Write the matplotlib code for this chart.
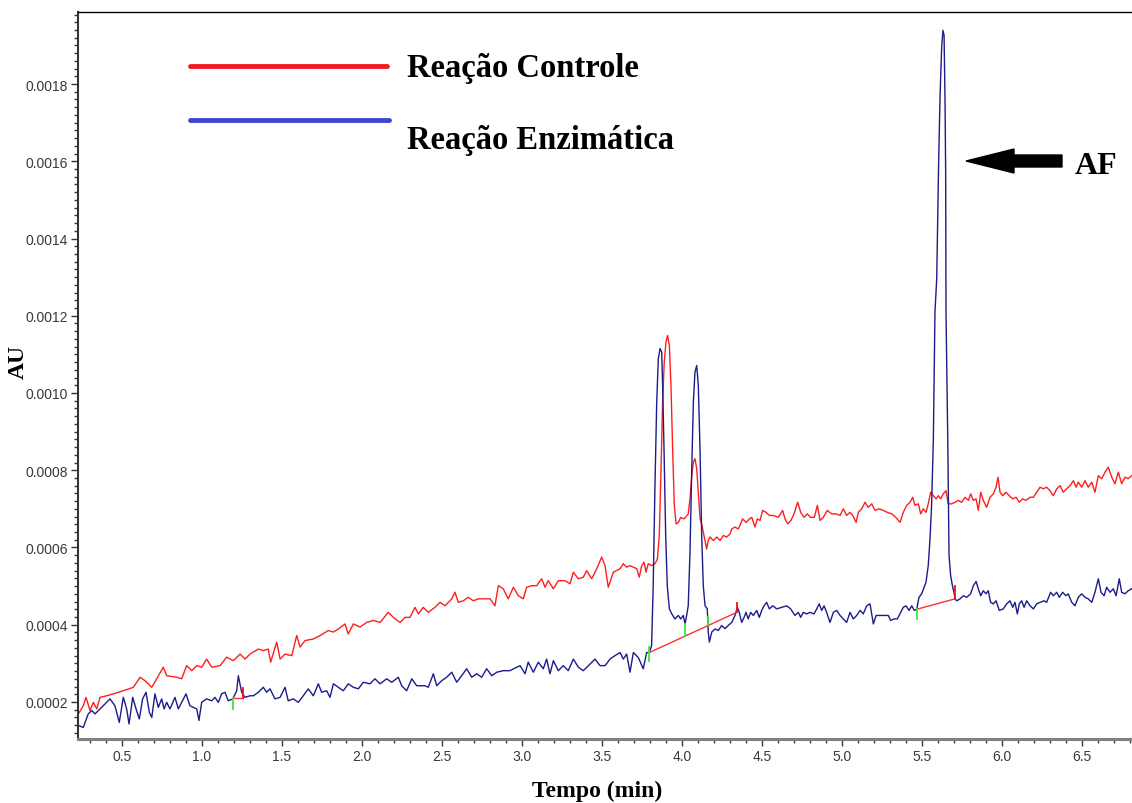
import numpy as np
import matplotlib
matplotlib.use('Agg')
from matplotlib import pyplot as plt
from matplotlib.patches import FancyArrow
from matplotlib.lines import Line2D
from matplotlib.ticker import MultipleLocator, FormatStrFormatter

t_controle = [0.227, 0.258, 0.275, 0.300, 0.321, 0.342, 0.363, 0.404, 0.446, 0.508,
              0.571, 0.613, 0.644, 0.686, 0.717, 0.758, 0.779, 0.842, 0.873, 0.904,
              0.936, 0.967, 0.998, 1.029, 1.061, 1.113, 1.154, 1.196, 1.238, 1.269,
              1.300, 1.352, 1.383, 1.414, 1.429, 1.467, 1.488, 1.519, 1.561, 1.592,
              1.613, 1.644, 1.696, 1.738, 1.789, 1.821, 1.852, 1.894, 1.914, 1.946,
              1.988, 2.029, 2.071, 2.113, 2.164, 2.196, 2.238, 2.269, 2.300, 2.331,
              2.352, 2.383, 2.414, 2.456, 2.488, 2.519, 2.561, 2.581, 2.602, 2.633,
              2.664, 2.696, 2.727, 2.758, 2.800, 2.831, 2.852, 2.883, 2.914, 2.946,
              2.977, 3.008, 3.029, 3.061, 3.092, 3.123, 3.144, 3.164, 3.196, 3.227,
              3.269, 3.300, 3.321, 3.352, 3.383, 3.404, 3.436, 3.467, 3.498, 3.519,
              3.539, 3.571, 3.613, 3.633, 3.654, 3.675, 3.696, 3.717, 3.733, 3.748,
              3.763, 3.775, 3.789, 3.810, 3.831, 3.846, 3.858, 3.869, 3.879, 3.889,
              3.900, 3.910, 3.921, 3.931, 3.942, 3.952, 3.963, 3.977, 3.992, 4.013,
              4.039, 4.050, 4.061, 4.071, 4.081, 4.092, 4.102, 4.113, 4.123, 4.133,
              4.144, 4.154, 4.164, 4.175, 4.196, 4.217, 4.238, 4.258, 4.279, 4.300,
              4.311, 4.331, 4.352, 4.379, 4.400, 4.421, 4.436, 4.456, 4.471, 4.488,
              4.504, 4.525, 4.546, 4.571, 4.602, 4.629, 4.644, 4.661, 4.681, 4.700,
              4.723, 4.742, 4.763, 4.783, 4.804, 4.827, 4.846, 4.863, 4.883, 4.908,
              4.936, 4.963, 4.988, 5.008, 5.029, 5.050, 5.067, 5.088, 5.102, 5.123,
              5.144, 5.164, 5.186, 5.206, 5.233, 5.258, 5.283, 5.311, 5.336, 5.363,
              5.383, 5.404, 5.425, 5.442, 5.456, 5.477, 5.492, 5.508, 5.525, 5.539,
              5.554, 5.571, 5.588, 5.602, 5.617, 5.633, 5.650, 5.664, 5.686, 5.706,
              5.727, 5.748, 5.769, 5.790, 5.804, 5.821, 5.838, 5.852, 5.867, 5.883,
              5.904, 5.925, 5.946, 5.963, 5.975, 5.988, 6.004, 6.025, 6.046, 6.067,
              6.088, 6.108, 6.129, 6.150, 6.175, 6.196, 6.217, 6.238, 6.258, 6.279,
              6.300, 6.321, 6.342, 6.363, 6.383, 6.404, 6.425, 6.446, 6.463, 6.477,
              6.498, 6.519, 6.539, 6.561, 6.581, 6.602, 6.623, 6.644, 6.664, 6.686,
              6.706, 6.727, 6.748, 6.769, 6.789, 6.810]
au_controle = [1.69, 1.90, 2.12, 1.78, 1.99, 1.82, 2.12, 2.16, 2.21, 2.29,
               2.38, 2.64, 2.55, 2.38, 2.60, 2.90, 2.68, 2.64, 2.60, 2.94,
               2.81, 2.94, 2.90, 3.11, 2.90, 2.94, 3.16, 3.07, 3.24, 3.11,
               3.24, 3.37, 3.33, 3.37, 3.03, 3.55, 3.11, 3.24, 3.20, 3.72,
               3.42, 3.59, 3.63, 3.72, 3.85, 3.81, 3.89, 4.02, 3.76, 4.02,
               3.94, 4.06, 4.11, 4.06, 4.32, 4.19, 4.06, 4.19, 4.19, 4.45,
               4.28, 4.45, 4.32, 4.45, 4.58, 4.49, 4.67, 4.84, 4.58, 4.62,
               4.71, 4.62, 4.67, 4.67, 4.67, 4.49, 5.01, 4.93, 4.67, 4.97,
               4.75, 4.67, 4.97, 5.01, 5.01, 5.19, 4.97, 5.14, 4.93, 5.14,
               5.14, 5.06, 5.36, 5.19, 5.23, 5.40, 5.19, 5.45, 5.75, 5.53,
               4.97, 5.36, 5.45, 5.58, 5.49, 5.53, 5.49, 5.45, 5.23, 5.53,
               5.62, 5.36, 5.58, 5.53, 5.58, 5.70, 6.31, 8.04, 9.76, 10.80,
               11.32, 11.49, 11.23, 10.19, 8.47, 7.09, 6.61, 6.65, 6.78, 6.74,
               6.87, 7.26, 7.86, 8.21, 8.30, 8.04, 7.43, 6.74, 6.61, 6.40,
               6.18, 5.96, 6.18, 6.27, 6.18, 6.27, 6.18, 6.31, 6.27, 6.35,
               6.48, 6.53, 6.48, 6.74, 6.65, 6.74, 6.78, 6.53, 6.74, 6.70,
               6.96, 6.91, 6.83, 6.83, 6.78, 6.96, 6.74, 6.61, 6.70, 6.87,
               7.17, 6.91, 6.78, 6.87, 6.78, 6.78, 7.09, 6.70, 6.78, 6.96,
               6.87, 6.87, 6.83, 7.00, 6.83, 6.91, 6.83, 6.65, 6.91, 7.00,
               7.17, 7.04, 7.13, 6.96, 7.00, 6.96, 6.91, 6.87, 6.78, 6.65,
               6.91, 7.09, 7.17, 7.30, 7.09, 7.13, 6.87, 7.00, 6.91, 7.13,
               7.43, 7.34, 7.26, 7.34, 7.26, 7.39, 7.47, 7.13, 7.13, 7.17,
               7.22, 7.17, 7.30, 7.22, 7.39, 7.22, 7.26, 6.96, 7.43, 7.22,
               7.04, 7.30, 7.39, 7.56, 7.82, 7.43, 7.34, 7.43, 7.34, 7.26,
               7.30, 7.17, 7.26, 7.22, 7.30, 7.30, 7.43, 7.56, 7.52, 7.56,
               7.47, 7.34, 7.52, 7.60, 7.43, 7.52, 7.60, 7.73, 7.56, 7.69,
               7.56, 7.73, 7.56, 7.69, 7.43, 7.86, 7.78, 7.95, 8.08, 7.82,
               7.65, 7.95, 7.65, 7.82, 7.78, 7.86]

t_enzimatica = [0.227, 0.258, 0.289, 0.311, 0.331, 0.363, 0.425, 0.456, 0.483, 0.508,
                0.529, 0.544, 0.567, 0.588, 0.608, 0.629, 0.650, 0.671, 0.686, 0.706,
                0.727, 0.748, 0.763, 0.779, 0.800, 0.831, 0.852, 0.873, 0.900, 0.925,
                0.946, 0.967, 0.981, 0.998, 1.029, 1.061, 1.081, 1.102, 1.123, 1.144,
                1.164, 1.192, 1.217, 1.227, 1.248, 1.269, 1.300, 1.321, 1.352, 1.383,
                1.404, 1.425, 1.456, 1.488, 1.519, 1.539, 1.571, 1.602, 1.633, 1.664,
                1.696, 1.727, 1.748, 1.779, 1.800, 1.821, 1.852, 1.883, 1.914, 1.946,
                1.977, 2.008, 2.050, 2.081, 2.113, 2.154, 2.186, 2.227, 2.248, 2.279,
                2.311, 2.342, 2.394, 2.414, 2.446, 2.467, 2.498, 2.529, 2.561, 2.592,
                2.623, 2.654, 2.686, 2.717, 2.748, 2.779, 2.811, 2.842, 2.883, 2.925,
                2.967, 2.988, 3.019, 3.039, 3.071, 3.102, 3.133, 3.154, 3.175, 3.196,
                3.227, 3.258, 3.289, 3.321, 3.352, 3.383, 3.425, 3.456, 3.488, 3.519,
                3.550, 3.581, 3.613, 3.633, 3.654, 3.675, 3.696, 3.727, 3.758, 3.779,
                3.796, 3.810, 3.820, 3.831, 3.842, 3.852, 3.863, 3.873, 3.879, 3.888,
                3.898, 3.908, 3.921, 3.936, 3.956, 3.977, 3.992, 4.008, 4.019, 4.029,
                4.039, 4.050, 4.061, 4.071, 4.081, 4.092, 4.102, 4.113, 4.123, 4.133,
                4.144, 4.158, 4.164, 4.171, 4.186, 4.206, 4.227, 4.248, 4.269, 4.289,
                4.311, 4.331, 4.346, 4.358, 4.373, 4.388, 4.400, 4.414, 4.429, 4.446,
                4.467, 4.483, 4.498, 4.513, 4.529, 4.546, 4.567, 4.592, 4.623, 4.654,
                4.679, 4.706, 4.727, 4.742, 4.758, 4.779, 4.800, 4.825, 4.842, 4.858,
                4.873, 4.888, 4.904, 4.925, 4.946, 4.967, 4.988, 5.008, 5.029, 5.050,
                5.071, 5.092, 5.113, 5.133, 5.154, 5.175, 5.196, 5.213, 5.238, 5.269,
                5.289, 5.304, 5.325, 5.346, 5.367, 5.383, 5.400, 5.419, 5.436, 5.452,
                5.467, 5.481, 5.498, 5.513, 5.525, 5.539, 5.550, 5.560, 5.571, 5.581,
                5.592, 5.596, 5.604, 5.613, 5.623, 5.631, 5.638, 5.644, 5.648, 5.650,
                5.661, 5.669, 5.679, 5.692, 5.702, 5.706, 5.717, 5.738, 5.758, 5.779,
                5.804, 5.821, 5.838, 5.852, 5.867, 5.883, 5.900, 5.914, 5.929, 5.946,
                5.963, 5.983, 6.008, 6.029, 6.050, 6.067, 6.081, 6.096, 6.108, 6.123,
                6.138, 6.154, 6.175, 6.196, 6.217, 6.238, 6.263, 6.279, 6.304, 6.321,
                6.342, 6.358, 6.379, 6.400, 6.414, 6.436, 6.456, 6.477, 6.498, 6.519,
                6.539, 6.561, 6.581, 6.602, 6.619, 6.638, 6.654, 6.675, 6.696, 6.713,
                6.733, 6.748, 6.769, 6.789, 6.810]
au_enzimatica = [1.39, 1.34, 1.69, 1.78, 1.69, 1.82, 2.08, 1.90, 1.47, 2.12,
                 1.82, 1.43, 2.12, 1.82, 1.56, 2.08, 2.25, 1.73, 1.60, 2.21,
                 1.86, 2.08, 1.82, 1.99, 1.82, 2.12, 1.82, 1.99, 2.21, 1.90,
                 1.86, 1.82, 1.52, 1.99, 2.08, 2.03, 2.12, 1.99, 2.21, 2.25,
                 2.03, 2.08, 2.29, 2.68, 2.25, 2.12, 2.16, 2.16, 2.25, 2.38,
                 2.25, 2.34, 2.08, 2.12, 2.38, 2.03, 2.08, 1.99, 2.16, 2.34,
                 2.16, 2.47, 2.25, 2.29, 2.12, 2.47, 2.38, 2.29, 2.47, 2.38,
                 2.34, 2.51, 2.47, 2.60, 2.47, 2.60, 2.51, 2.64, 2.42, 2.29,
                 2.60, 2.42, 2.42, 2.38, 2.73, 2.42, 2.55, 2.64, 2.77, 2.51,
                 2.68, 2.86, 2.64, 2.73, 2.64, 2.86, 2.68, 2.77, 2.81, 2.81,
                 2.90, 2.94, 2.73, 3.03, 2.77, 3.03, 2.86, 3.11, 2.73, 3.07,
                 2.81, 2.94, 2.81, 3.11, 2.90, 2.81, 2.98, 3.11, 2.94, 2.94,
                 3.11, 3.20, 3.28, 3.11, 3.24, 2.77, 3.28, 3.15, 2.86, 3.28,
                 3.28, 3.46, 5.01, 7.60, 9.76, 10.89, 11.15, 11.06, 10.19, 8.47,
                 6.31, 5.01, 4.41, 4.28, 4.15, 4.24, 4.15, 4.24, 4.02, 4.24,
                 4.49, 5.88, 8.04, 9.76, 10.54, 10.71, 10.19, 8.47, 6.31, 5.01,
                 4.49, 4.41, 3.81, 3.55, 3.81, 3.89, 3.85, 3.98, 3.90, 3.98,
                 4.06, 4.24, 4.45, 4.32, 4.06, 4.19, 4.32, 4.15, 4.32, 4.24,
                 4.37, 4.19, 4.37, 4.49, 4.58, 4.41, 4.49, 4.41, 4.45, 4.49,
                 4.41, 4.24, 4.32, 4.19, 4.32, 4.28, 4.32, 4.28, 4.41, 4.54,
                 4.37, 4.49, 4.32, 4.06, 4.32, 4.37, 4.24, 4.15, 4.06, 4.32,
                 4.15, 4.24, 4.37, 4.28, 4.49, 4.54, 4.02, 4.24, 4.24, 4.24,
                 4.24, 4.11, 4.15, 4.15, 4.32, 4.45, 4.49, 4.37, 4.49, 4.37,
                 4.40, 4.71, 4.80, 4.97, 5.10, 5.53, 6.22, 7.09, 8.81, 12.09,
                 12.96, 13.99, 15.98, 17.71, 18.96, 19.39, 19.26, 17.54, 15.64, 12.09,
                 8.81, 5.79, 5.27, 4.97, 4.80, 4.67, 4.62, 4.67, 4.75, 4.71,
                 4.80, 5.01, 5.12, 4.93, 4.75, 4.88, 4.80, 4.88, 4.58, 4.54,
                 4.62, 4.37, 4.41, 4.54, 4.62, 4.45, 4.58, 4.28, 4.54, 4.62,
                 4.45, 4.62, 4.49, 4.41, 4.54, 4.58, 4.62, 4.58, 4.84, 4.75,
                 4.84, 4.71, 4.84, 4.75, 4.80, 4.58, 4.49, 4.71, 4.80, 4.71,
                 4.67, 4.58, 4.84, 5.19, 4.84, 4.75, 4.97, 4.84, 4.93, 4.75,
                 5.19, 4.84, 4.80, 4.88, 4.93]

# marcas de integracao do software (linhas de base e cortes)
base_t = [(3.796, 4.342), (5.467, 5.706), (1.196, 1.254)]
base_au = [(3.28, 4.32), (4.40, 4.67), (2.10, 2.10)]
corte_verde_t = [1.194, 3.796, 4.019, 4.165, 5.467]
corte_verde_au = [(1.81, 2.10), (3.07, 3.42), (3.70, 4.02), (3.98, 4.20), (4.15, 4.40)]
corte_verm_t = [1.254, 4.342, 5.706]
corte_verm_au = [(2.10, 2.36), (4.32, 4.55), (4.67, 5.00)]

escala = 1e-4
W, H = 1132, 804

fig = plt.figure(figsize=(W / 100, H / 100), dpi=100)
ax = fig.add_axes([78 / W, 64 / H, 1054 / W, 727 / H])

ax.plot(t_controle, np.array(au_controle) * escala, color='#ff1e1e', lw=1.0)
ax.plot(t_enzimatica, np.array(au_enzimatica) * escala, color='#1c1c8a', lw=1.0)

for bt, ba in zip(base_t, base_au):
    ax.plot(bt, np.array(ba) * escala, color='#ff3030', lw=1.0)
for ct, ca in zip(corte_verde_t, corte_verde_au):
    ax.plot([ct, ct], np.array(ca) * escala, color='#33ee33', lw=1.3)
for ct, ca in zip(corte_verm_t, corte_verm_au):
    ax.plot([ct, ct], np.array(ca) * escala, color='#ee1010', lw=1.3)

ax.set_xlim(0.225, 6.8125)
ax.set_ylim(1.041e-4, 19.865e-4)

ax.xaxis.set_major_locator(MultipleLocator(0.5))
ax.xaxis.set_minor_locator(MultipleLocator(0.1))
ax.yaxis.set_major_locator(MultipleLocator(0.0002))
ax.yaxis.set_minor_locator(MultipleLocator(0.00002))
ax.xaxis.set_major_formatter(FormatStrFormatter('%.1f'))
ax.yaxis.set_major_formatter(FormatStrFormatter('%.4f'))

ax.tick_params(which='major', direction='out', length=5, width=1, color='#333333',
               labelcolor='#3a3a3a', labelsize=10, pad=2)
ax.tick_params(which='minor', direction='out', length=3, width=1, color='#333333')
for lab in ax.get_xticklabels() + ax.get_yticklabels():
    lab.set_family('Liberation Sans')

ax.spines['right'].set_visible(False)
ax.spines['top'].set_color('black')
ax.spines['top'].set_linewidth(1.0)
ax.spines['left'].set_color('#333333')
ax.spines['left'].set_linewidth(1.5)
ax.spines['bottom'].set_color('#808080')
ax.spines['bottom'].set_linewidth(2.2)

serif = dict(family='Liberation Serif', weight='bold')
fig.text(597 / W, 1 - 791 / H, 'Tempo (min)', ha='center', va='center', fontsize=17, **serif)
fig.text(18 / W, 1 - 362 / H, 'AU', ha='center', va='center', rotation=90, fontsize=17, **serif)

# legenda desenhada a mao como no original
fig.add_artist(Line2D([190 / W, 387 / W], [1 - 67 / H, 1 - 67 / H], color='#ee1c25',
                      lw=3.5, solid_capstyle='round'))
fig.add_artist(Line2D([190 / W, 389 / W], [1 - 121 / H, 1 - 121 / H], color='#3f48cc',
                      lw=3.5, solid_capstyle='round'))
fig.text(407 / W, 1 - 77 / H, 'Reação Controle', ha='left', va='baseline', fontsize=23.5, **serif)
fig.text(407 / W, 1 - 149 / H, 'Reação Enzimática', ha='left', va='baseline', fontsize=23.5, **serif)

fig.add_artist(FancyArrow(1062 / W, 1 - 162 / H, -(1062 - 966) / W, 0, width=12 / H,
                          head_width=24 / H, head_length=48 / W, length_includes_head=True,
                          color='black', transform=fig.transFigure))
fig.text(1075 / W, 1 - 174 / H, 'AF', ha='left', va='baseline', fontsize=23, **serif)

fig.savefig('out.png', dpi=100)
